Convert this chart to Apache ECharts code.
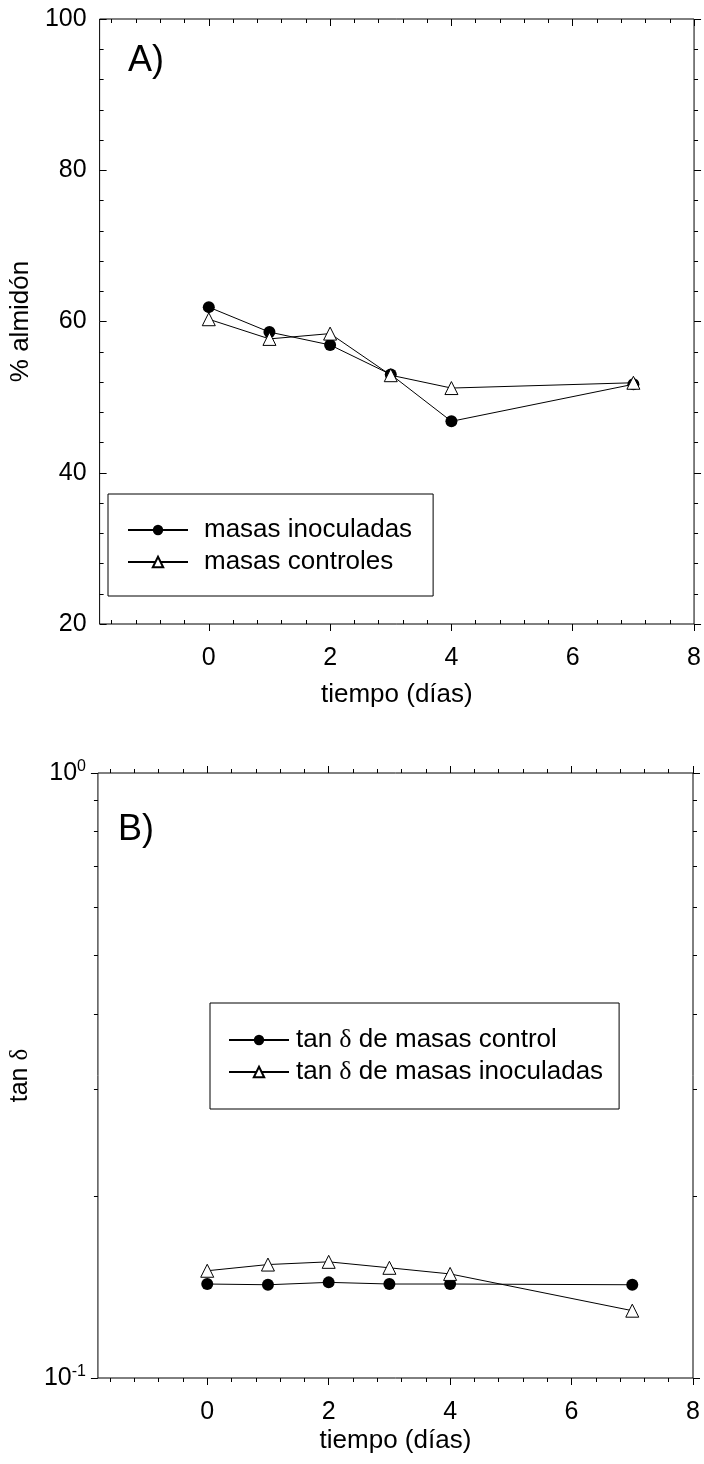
<!DOCTYPE html>
<html>
<head>
<meta charset="utf-8">
<script src="https://cdn.jsdelivr.net/npm/echarts@6/dist/echarts.min.js"></script>
<style>
html,body{margin:0;padding:0;background:#fff;}
#c{width:704px;height:1464px;}
</style>
</head>
<body>
<div id="c"></div>
<script>
// ---------- data ----------
const days = [0, 1, 2, 3, 4, 7];
// Panel A: % almidón
const starchInoculadas = [61.9, 58.6, 56.9, 53.0, 46.8, 51.7];
const starchControles  = [60.3, 57.7, 58.4, 52.9, 51.2, 51.9];
// Panel B: tan delta
const tanControl    = [0.1430, 0.1426, 0.1439, 0.1430, 0.1430, 0.1426];
const tanInoculadas = [0.1504, 0.1540, 0.1556, 0.1521, 0.1486, 0.1292];

// ticks
const xMajor = [0, 2, 4, 6, 8];
const xMinor = [-1.6, -1.2, -0.8, -0.4, 0.4, 0.8, 1.2, 1.6, 2.4, 2.8, 3.2, 3.6,
                4.4, 4.8, 5.2, 5.6, 6.4, 6.8, 7.2, 7.6];
const yMajorA = [20, 40, 60, 80, 100];
const yMinorA = [24, 28, 32, 36, 44, 48, 52, 56, 64, 68, 72, 76, 84, 88, 92, 96];
const yMajorB = [0.1, 1];
const yMinorB = [0.2, 0.3, 0.4, 0.5, 0.6, 0.7, 0.8, 0.9];

const FONT = "'Liberation Sans', Arial, Helvetica, sans-serif";
const SERIF = "'Liberation Serif', 'DejaVu Serif', serif";
const black = '#000';

function pairs(xs, ys) { return xs.map((x, i) => [x, ys[i]]); }

function deco(grid, position, min, max, ticks, len, inside) {
  return {
    type: 'value', gridIndex: grid, position: position, min: min, max: max,
    axisLine: { show: false, onZero: false },
    axisTick: { show: true, customValues: ticks, length: len, inside: inside,
                lineStyle: { color: black, width: 1 } },
    axisLabel: { show: false },
    splitLine: { show: false },
    silent: true
  };
}

const logB = v => Math.log10(v);

const option = {
  animation: false,
  backgroundColor: '#fff',
  textStyle: { fontFamily: FONT, color: black },
  title: [
    { text: 'A)', left: 123, top: 38, textStyle: { fontFamily: FONT, fontSize: 36, fontWeight: 'normal', color: black } },
    { text: 'B)', left: 113, top: 807, textStyle: { fontFamily: FONT, fontSize: 36, fontWeight: 'normal', color: black } }
  ],
  grid: [
    { left: 91, top: 19, width: 604, height: 605, show: true, borderColor: black, borderWidth: 1, backgroundColor: 'transparent' },
    { left: 88, top: 773, width: 605, height: 605, show: true, borderColor: black, borderWidth: 1, backgroundColor: 'transparent' }
  ],
  legend: [
    {
      data: ['masas inoculadas', 'masas controles'],
      orient: 'vertical', left: 108, top: 494,
      padding: [23, 21, 21, 19],
      itemWidth: 60, itemHeight: 13, itemGap: 6,
      borderColor: black, borderWidth: 1,
      selectedMode: false,
      textStyle: { fontFamily: FONT, fontSize: 26, lineHeight: 26, color: black, padding: [0, 0, 0, 11] }
    },
    {
      data: ['tan δ de masas control', 'tan δ de masas inoculadas'],
      orient: 'vertical', left: 210, top: 1003,
      padding: [24, 16, 24, 18],
      itemWidth: 60, itemHeight: 13, itemGap: 6,
      borderColor: black, borderWidth: 1,
      selectedMode: false,
      formatter: n => n.replace('δ', '{d|δ}'),
      textStyle: { fontFamily: FONT, fontSize: 26, lineHeight: 26, color: black, padding: [0, 0, 0, 2],
        rich: { d: { fontFamily: SERIF, fontSize: 26, lineHeight: 26, color: black } } }
    }
  ],
  xAxis: [
    { // 0: panel A bottom
      type: 'value', gridIndex: 0, position: 'bottom', min: -1.8, max: 8,
      name: 'tiempo (días)', nameLocation: 'middle', nameGap: 58,
      nameTextStyle: { fontFamily: FONT, fontSize: 26, color: black },
      axisLine: { show: false, onZero: false },
      axisTick: { show: true, customValues: xMajor, length: 7, inside: false, lineStyle: { color: black } },
      axisLabel: { customValues: xMajor, fontFamily: FONT, fontSize: 25, color: black, margin: 22 },
      splitLine: { show: false }
    },
    { // 1: panel B bottom
      type: 'value', gridIndex: 1, position: 'bottom', min: -1.8, max: 8,
      name: 'tiempo (días)', nameLocation: 'middle', nameGap: 50,
      nameTextStyle: { fontFamily: FONT, fontSize: 26, color: black },
      axisLine: { show: false, onZero: false },
      axisTick: { show: true, customValues: xMajor, length: 7, inside: false, lineStyle: { color: black } },
      axisLabel: { customValues: xMajor, fontFamily: FONT, fontSize: 25, color: black, margin: 22 },
      splitLine: { show: false }
    },
    deco(0, 'bottom', -1.8, 8, xMinor, 4, true),
    deco(0, 'top', -1.8, 8, xMajor, 7, true),
    deco(0, 'top', -1.8, 8, xMinor, 4, true),
    deco(1, 'bottom', -1.8, 8, xMinor, 4, false),
    deco(1, 'top', -1.8, 8, xMajor, 7, false),
    deco(1, 'top', -1.8, 8, xMinor, 4, false)
  ],
  yAxis: [
    { // 0: panel A left
      type: 'value', gridIndex: 0, position: 'left', min: 20, max: 100,
      name: '% almidón', nameLocation: 'middle', nameGap: 56, nameRotate: 90,
      nameTextStyle: { fontFamily: FONT, fontSize: 26, color: black },
      axisLine: { show: false, onZero: false },
      axisTick: { show: true, customValues: yMajorA, length: 7, inside: true, lineStyle: { color: black } },
      axisLabel: { customValues: yMajorA, fontFamily: FONT, fontSize: 25, color: black, margin: 13 },
      splitLine: { show: false }
    },
    { // 1: panel B left (log)
      type: 'log', logBase: 10, gridIndex: 1, position: 'left', min: 0.1, max: 1,
      name: 'tan {d|δ}', nameLocation: 'middle', nameGap: 54, nameRotate: 90,
      nameTextStyle: { fontFamily: FONT, fontSize: 25, color: black,
        rich: { d: { fontFamily: SERIF, fontSize: 25, color: black } } },
      axisLine: { show: false, onZero: false },
      axisTick: { show: true, length: 7, inside: false, lineStyle: { color: black } },
      axisLabel: {
        fontFamily: FONT, fontSize: 25, color: black, margin: 12,
        formatter: v => '{b|10}{s|' + Math.round(Math.log10(v)) + '}',
        rich: {
          b: { fontFamily: FONT, fontSize: 25, lineHeight: 28, color: black },
          s: { fontFamily: FONT, fontSize: 16, lineHeight: 16, verticalAlign: 'top', color: black }
        }
      },
      splitLine: { show: false }
    },
    deco(0, 'left', 20, 100, yMinorA, 4, true),
    deco(0, 'right', 20, 100, yMajorA, 7, false),
    deco(0, 'right', 20, 100, yMinorA, 4, false),
    deco(1, 'left', -1, 0, yMinorB.map(logB), 4, false),
    deco(1, 'right', -1, 0, yMajorB.map(logB), 7, false),
    deco(1, 'right', -1, 0, yMinorB.map(logB), 4, false)
  ],
  series: [
    {
      name: 'masas inoculadas', type: 'line', xAxisIndex: 0, yAxisIndex: 0,
      data: pairs(days, starchInoculadas),
      symbol: 'circle', symbolSize: 12,
      lineStyle: { color: black, width: 1 },
      itemStyle: { color: black, borderColor: black, borderWidth: 0 },
      z: 3
    },
    {
      name: 'masas controles', type: 'line', xAxisIndex: 0, yAxisIndex: 0,
      data: pairs(days, starchControles),
      symbol: 'triangle', symbolSize: 13,
      lineStyle: { color: black, width: 1 },
      itemStyle: { color: '#fff', borderColor: black, borderWidth: 1 },
      z: 4
    },
    {
      name: 'tan δ de masas control', type: 'line', xAxisIndex: 1, yAxisIndex: 1,
      data: pairs(days, tanControl),
      symbol: 'circle', symbolSize: 12,
      lineStyle: { color: black, width: 1 },
      itemStyle: { color: black, borderColor: black, borderWidth: 0 },
      z: 3
    },
    {
      name: 'tan δ de masas inoculadas', type: 'line', xAxisIndex: 1, yAxisIndex: 1,
      data: pairs(days, tanInoculadas),
      symbol: 'triangle', symbolSize: 13,
      lineStyle: { color: black, width: 1 },
      itemStyle: { color: '#fff', borderColor: black, borderWidth: 1 },
      z: 4
    }
  ]
};

const chart = echarts.init(document.getElementById('c'), null, { renderer: 'canvas' });
chart.setOption(option);
</script>
</body>
</html>
